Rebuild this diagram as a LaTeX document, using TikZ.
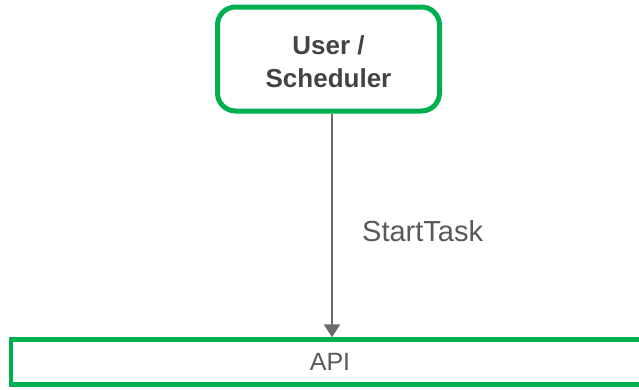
\documentclass[tikz,border=0pt]{standalone}
\usepackage{fontspec}
\setmainfont{Liberation Sans}
\usetikzlibrary{arrows.meta}
\definecolor{boxgreen}{HTML}{00B050}
\definecolor{darktext}{HTML}{434343}
\definecolor{midtext}{HTML}{595959}
\definecolor{arrowgray}{HTML}{6B6B6B}
\begin{document}
\begin{tikzpicture}[x=1pt,y=-1pt,
  actorbox/.style={draw=boxgreen, line width=5pt, rounded corners=18pt,
    minimum width=222pt, minimum height=104pt, inner sep=0pt,
    align=center, text=darktext, font=\fontsize{26}{33}\selectfont\bfseries},
  layerbox/.style={draw=boxgreen, line width=4.5pt, minimum width=638pt,
    minimum height=45pt, inner sep=0pt, text=midtext,
    font=\fontsize{25}{28}\selectfont},
  calllabel/.style={text=midtext, font=\fontsize{29}{34}\selectfont, inner sep=0pt},
  callarrow/.style={draw=arrowgray, line width=2.6pt,
    -{Triangle[width=16pt,length=13pt]}}]
\useasboundingbox (0,0) rectangle (639,389);
\fill[white] (0,0) rectangle (639,389);

% boxes
\node[actorbox] (user) at (328.5,59) {};
\node[layerbox] (api) at (330,362) {API};

% two-line caption of the upper box, set a little below its centre
\node[align=center, text=darktext, font=\fontsize{26}{33}\selectfont\bfseries,
  inner sep=0pt] (usertext) at (328.5,61.5) {User /\\Scheduler};

\node[calllabel, anchor=base west] (call) at (362,241) {StartTask};

\draw[callarrow] ([xshift=3.5pt]user.south) -- ([xshift=3.5pt]user.south |- api.north);
\end{tikzpicture}
\end{document}
